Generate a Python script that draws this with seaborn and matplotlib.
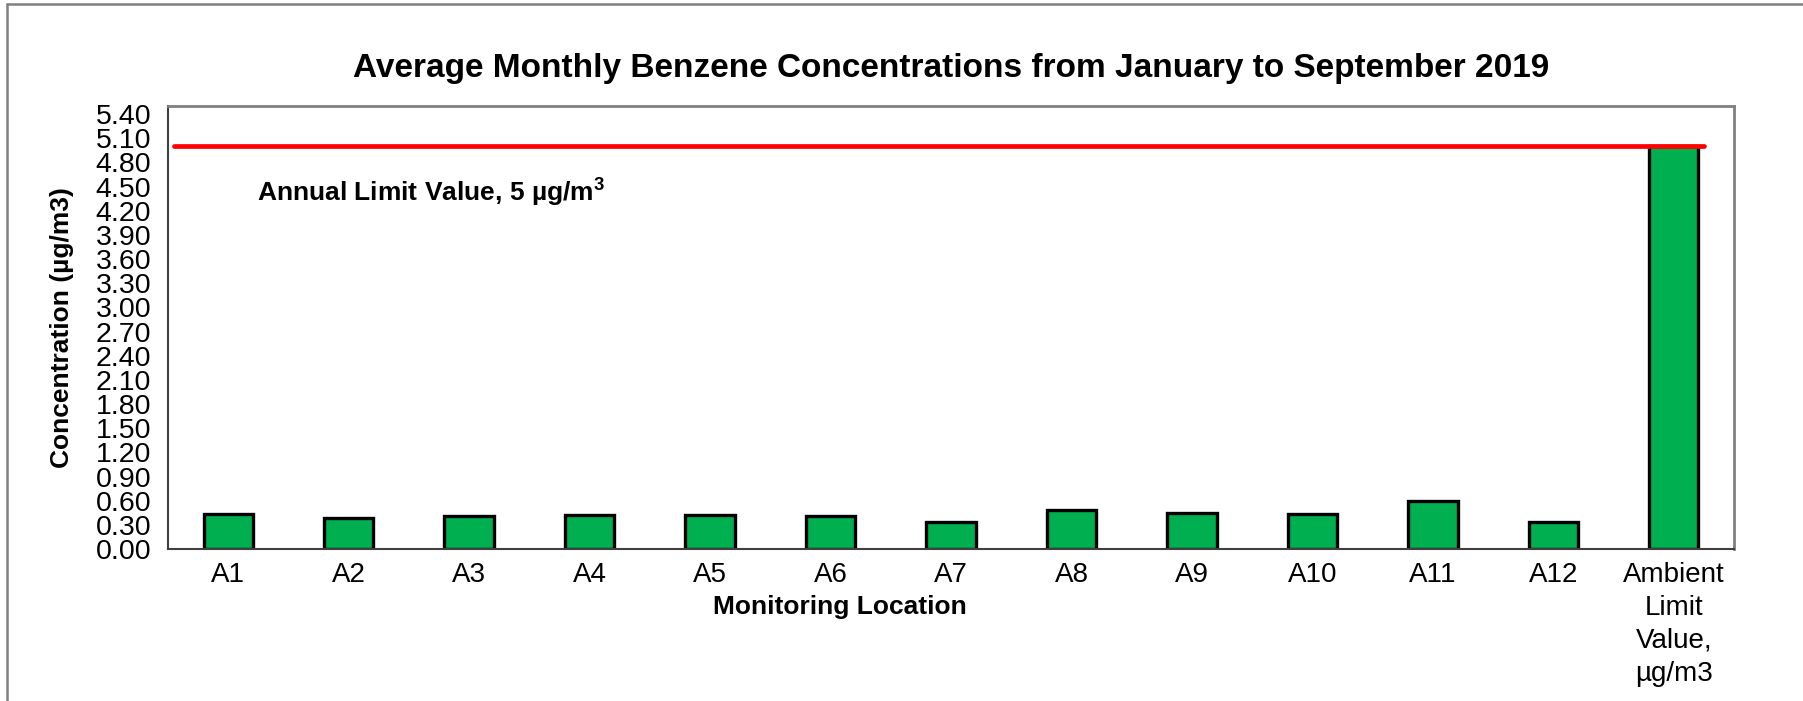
import matplotlib
matplotlib.use("Agg")
import matplotlib.pyplot as plt
import seaborn as sns
import numpy as np
import pandas as pd
from matplotlib.lines import Line2D

locations = ["A1", "A2", "A3", "A4", "A5", "A6", "A7", "A8", "A9", "A10", "A11", "A12",
             "Ambient\nLimit\nValue,\nµg/m3"]
concentrations = [0.44, 0.39, 0.41, 0.425, 0.42, 0.41, 0.33, 0.48, 0.45, 0.43, 0.59, 0.34, 5.0]
annual_limit = 5.0
y_ticks = [0.00, 0.30, 0.60, 0.90, 1.20, 1.50, 1.80, 2.10, 2.40, 2.70, 3.00, 3.30, 3.60,
           3.90, 4.20, 4.50, 4.80, 5.10, 5.40]

sns.set_theme(style="white")
plt.rcParams['font.family'] = ['Liberation Sans', 'DejaVu Sans']
plt.rcParams['mathtext.fontset'] = 'custom'
plt.rcParams['mathtext.rm'] = 'Liberation Sans'
plt.rcParams['mathtext.bf'] = 'Liberation Sans:bold'
for k in ['text.color', 'axes.labelcolor', 'xtick.color', 'ytick.color']:
    plt.rcParams[k] = 'black'

W, H = 1803, 701
fig = plt.figure(figsize=(W / 100, H / 100), dpi=100)
ax = fig.add_axes([168 / W, 1 - 549 / H, (1734 - 168) / W, (549 - 106) / H])

df = pd.DataFrame({"loc": locations, "conc": concentrations})
sns.barplot(data=df, x="loc", y="conc", color="#00B050", saturation=1,
            edgecolor="black", linewidth=2.4, width=0.41, ax=ax)

ax.axhline(annual_limit, xmin=0.004, xmax=0.981, color="#FF0000", lw=3.4, zorder=5)

ax.set_xlim(-0.5, len(locations) - 0.5)
ax.set_ylim(0, 5.5)
ax.set_yticks(y_ticks)
ax.set_yticklabels([f"{v:.2f}" for v in y_ticks])
ax.set_xticks(np.arange(-0.5, len(locations), 1), minor=True)
ax.tick_params(axis="x", which="major", length=0, pad=9, labelsize=20)
ax.tick_params(axis="x", which="minor", length=8, width=1.2, direction="out", color="#404040")
ax.tick_params(axis="y", which="major", length=8, width=1.2, direction="out", color="#404040",
               pad=4, labelsize=20.5)
for lbl in ax.get_xticklabels():
    lbl.set_linespacing(1.36)
    lbl.set_va("top")

for side in ["left", "bottom"]:
    ax.spines[side].set_color("#404040")
    ax.spines[side].set_linewidth(1.5)
for side in ["top", "right"]:
    ax.spines[side].set_color("#808080")
    ax.spines[side].set_linewidth(2)

ax.set_xlabel("Monitoring Location", fontsize=19, fontweight="bold")
ax.xaxis.set_label_coords((840 - 168) / 1566, -(607 - 549) / 443)
ax.xaxis.label.set_va("center")
ax.set_ylabel("Concentration (µg/m3)", fontsize=19, fontweight="bold")
ax.yaxis.set_label_coords(-(168 - 62) / 1566, 0.5)
ax.yaxis.label.set_va("center")

ax.text((257 - 168) / 1566, (549 - 192) / 443, r"Annual Limit Value, 5 µg/m$^{\mathbf{3}}$",
        transform=ax.transAxes, fontsize=19, fontweight="bold", ha="left", va="center")

fig.text(951 / W, 1 - 68 / H, "Average Monthly Benzene Concentrations from January to September 2019",
         ha="center", va="center", fontsize=24, fontweight="bold")

fig.add_artist(Line2D([7 / W, 1], [1 - 4 / H, 1 - 4 / H], transform=fig.transFigure,
                      color="#808080", lw=1.8))
fig.add_artist(Line2D([7 / W, 7 / W], [0, 1 - 4 / H], transform=fig.transFigure,
                      color="#808080", lw=1.8))

fig.savefig("out.png", dpi=100, facecolor="white")
